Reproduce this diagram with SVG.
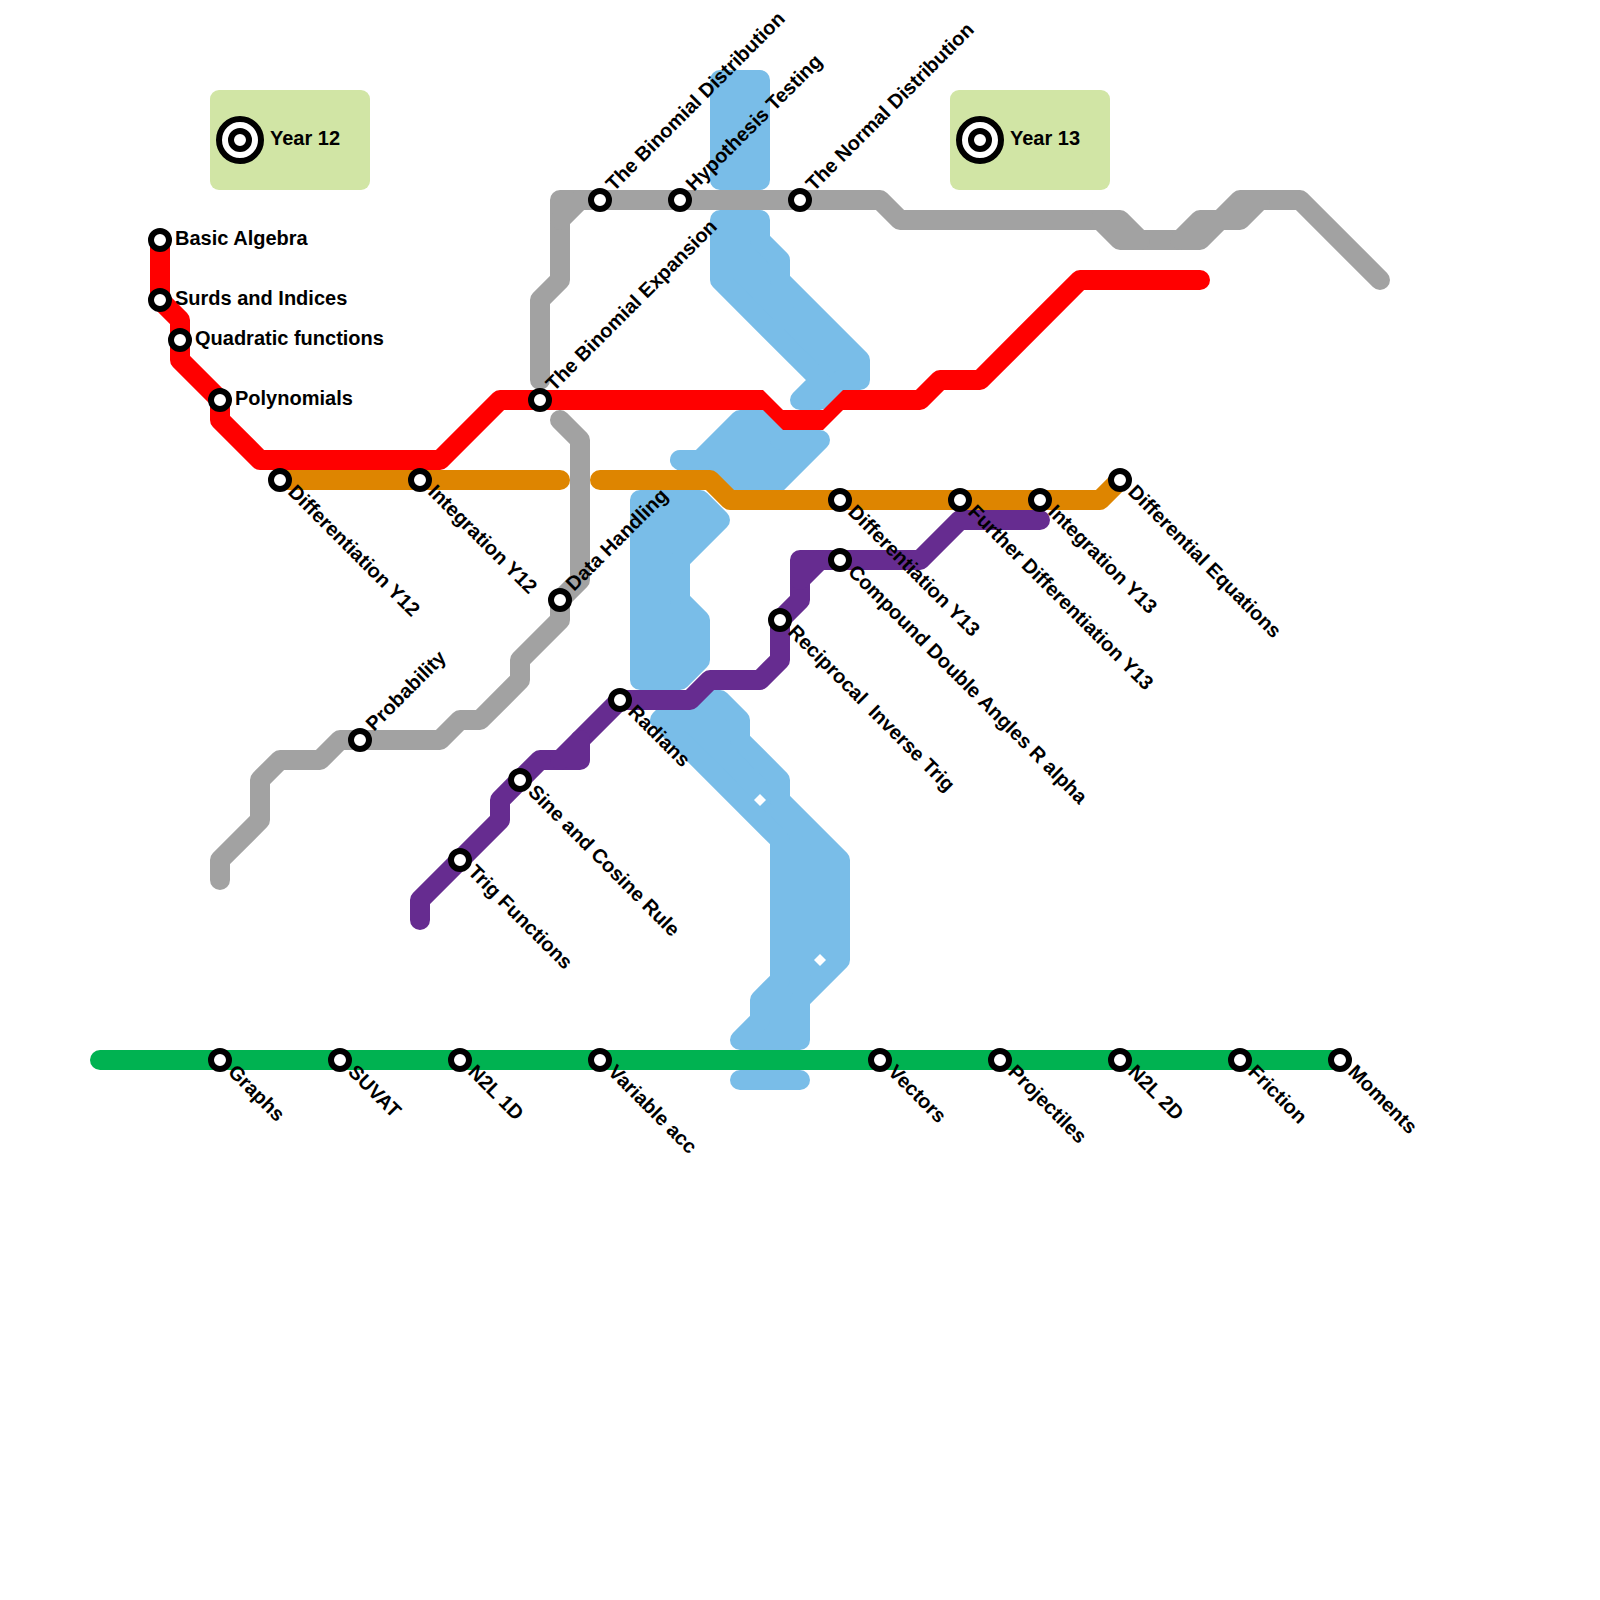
<svg xmlns="http://www.w3.org/2000/svg" width="1600" height="1600" viewBox="0 0 1600 1600">
<style>
.l{fill:none;stroke-width:20;stroke-linecap:round;stroke-linejoin:round}
.blue{fill:#79BDE8;stroke:#79BDE8;stroke-width:20;stroke-linejoin:round;stroke-linecap:round}
.gray{stroke:#A2A2A2}.red{stroke:#FF0000}.orange{stroke:#DE8500}.purple{stroke:#662C90}.green{stroke:#00B251}
.s{fill:#fff;stroke:#000;stroke-width:6}
.t{font-family:"Liberation Sans",Arial,sans-serif;font-weight:700;font-size:20px;fill:#000;white-space:pre}
.k{fill:#D1E5A5}
.o{fill:#fff;stroke:#000;stroke-width:6}
.i{fill:#fff;stroke:#000;stroke-width:6}
</style>
<g id="legend-year-12"><rect class="k" x="210" y="90" width="160" height="100" rx="9"/><circle class="o" cx="240" cy="140" r="21"/><circle class="i" cx="240" cy="140" r="9"/><text class="t" x="270" y="145">Year 12</text></g>
<g id="legend-year-13"><rect class="k" x="950" y="90" width="160" height="100" rx="9"/><circle class="o" cx="980" cy="140" r="21"/><circle class="i" cx="980" cy="140" r="9"/><text class="t" x="1010" y="145">Year 13</text></g>
<g id="connectors">
<g id="line-blue">
<path class="blue" d="M720 80H760V180H720Z"/>
<path class="blue" d="M720 220H760V240L780 260V280L860 360V380H840L820 400H800L820 380L720 280Z"/>
<path class="blue" d="M740 420H780V440H820L770 490H730L680 460V460H700Z"/>
<path class="blue" d="M640 500H700L720 520L680 560V600L700 620V660L680 680H640Z"/>
<path class="blue" d="M680 700H720L740 720V740L780 780V800L840 860V960L800 1000V1040H740L760 1020V1000L780 980V840L660 720Z"/>
<path class="blue" d="M740 1080H800"/>
<path fill="#fff" d="M760 794L766 800L760 806L754 800Z"/>
<path fill="#fff" d="M820 954L826 960L820 966L814 960Z"/>
</g>
<g id="line-gray">
<path class="l gray" d="M540 380V300L560 280V200H880L900 220H1120L1140 240H1200L1220 220H1240L1260 200H1300L1380 280"/>
<path class="l gray" d="M560 220L580 200"/>
<path class="l gray" d="M1100 220L1120 240H1140"/>
<path class="l gray" d="M1180 240L1200 220H1220L1240 200H1260"/>
<path class="l gray" d="M560 420L580 440V580L560 600V620L520 660V680L480 720H460L440 740H340L320 760H280L260 780V820L220 860V880"/>
</g>
<g id="line-red">
<path class="l red" d="M160 240V300L180 320V360L220 400V420L260 460H440L500 400H750"/>
<path fill="#FF0000" d="M750 390H763L783 410H823L843 390H860V410H843L823 430H783L763 410H750Z"/>
<path class="l red" d="M860 400H920L940 380H980L1080 280H1200"/>
</g>
<g id="line-orange">
<path class="l orange" d="M280 480H560"/>
<path class="l orange" d="M600 480H710L730 500H1100L1120 480"/>
</g>
<g id="line-purple">
<path class="l purple" d="M420 920V900L500 820V800L540 760H580V740L620 700H690L710 680H760L780 660V620L800 600V560H920L960 520H1040"/>
<path class="l purple" d="M560 760L580 740"/>
<path class="l purple" d="M800 580L820 560"/>
</g>
<path id="line-green" class="l green" d="M100 1060H1340"/>
</g>
<g id="st-basic-algebra"><circle class="s" cx="160" cy="240" r="9"/><text class="t" x="175" y="245">Basic Algebra</text></g>
<g id="st-surds"><circle class="s" cx="160" cy="300" r="9"/><text class="t" x="175" y="305">Surds and Indices</text></g>
<g id="st-quadratic"><circle class="s" cx="180" cy="340" r="9"/><text class="t" x="195" y="345">Quadratic functions</text></g>
<g id="st-polynomials"><circle class="s" cx="220" cy="400" r="9"/><text class="t" x="235" y="405">Polynomials</text></g>
<g id="st-diff-y12"><circle class="s" cx="280" cy="480" r="9"/><text class="t" x="287" y="493" transform="rotate(45 287 493)">Differentiation Y12</text></g>
<g id="st-int-y12"><circle class="s" cx="420" cy="480" r="9"/><text class="t" x="427" y="493" transform="rotate(45 427 493)">Integration Y12</text></g>
<g id="st-binomial-exp"><circle class="s" cx="540" cy="400" r="9"/><text class="t" x="554" y="392" transform="rotate(-45 554 392)">The Binomial Expansion</text></g>
<g id="st-binomial-dist"><circle class="s" cx="600" cy="200" r="9"/><text class="t" x="614" y="192" transform="rotate(-45 614 192)">The Binomial Distribution</text></g>
<g id="st-hypothesis"><circle class="s" cx="680" cy="200" r="9"/><text class="t" x="694" y="192" transform="rotate(-45 694 192)">Hypothesis Testing</text></g>
<g id="st-normal"><circle class="s" cx="800" cy="200" r="9"/><text class="t" x="814" y="192" transform="rotate(-45 814 192)">The Normal Distribution</text></g>
<g id="st-data"><circle class="s" cx="560" cy="600" r="9"/><text class="t" x="574" y="592" transform="rotate(-45 574 592)">Data Handling</text></g>
<g id="st-probability"><circle class="s" cx="360" cy="740" r="9"/><text class="t" x="374" y="732" transform="rotate(-45 374 732)">Probability</text></g>
<g id="st-radians"><circle class="s" cx="620" cy="700" r="9"/><text class="t" x="627" y="713" transform="rotate(45 627 713)">Radians</text></g>
<g id="st-sine"><circle class="s" cx="520" cy="780" r="9"/><text class="t" x="527" y="793" transform="rotate(45 527 793)">Sine and Cosine Rule</text></g>
<g id="st-trig"><circle class="s" cx="460" cy="860" r="9"/><text class="t" x="467" y="873" transform="rotate(45 467 873)">Trig Functions</text></g>
<g id="st-reciprocal"><circle class="s" cx="780" cy="620" r="9"/><text class="t" x="787" y="633" transform="rotate(45 787 633)">Reciprocal  Inverse Trig</text></g>
<g id="st-compound"><circle class="s" cx="840" cy="560" r="9"/><text class="t" x="847" y="573" transform="rotate(45 847 573)">Compound Double Angles R alpha</text></g>
<g id="st-diff-y13"><circle class="s" cx="840" cy="500" r="9"/><text class="t" x="847" y="513" transform="rotate(45 847 513)">Differentiation Y13</text></g>
<g id="st-further"><circle class="s" cx="960" cy="500" r="9"/><text class="t" x="967" y="513" transform="rotate(45 967 513)">Further Differentiation Y13</text></g>
<g id="st-int-y13"><circle class="s" cx="1040" cy="500" r="9"/><text class="t" x="1047" y="513" transform="rotate(45 1047 513)">Integration Y13</text></g>
<g id="st-diff-eq"><circle class="s" cx="1120" cy="480" r="9"/><text class="t" x="1127" y="493" transform="rotate(45 1127 493)">Differential Equations</text></g>
<g id="st-graphs"><circle class="s" cx="220" cy="1060" r="9"/><text class="t" x="227" y="1073" transform="rotate(45 227 1073)">Graphs</text></g>
<g id="st-suvat"><circle class="s" cx="340" cy="1060" r="9"/><text class="t" x="347" y="1073" transform="rotate(45 347 1073)">SUVAT</text></g>
<g id="st-n2l-1d"><circle class="s" cx="460" cy="1060" r="9"/><text class="t" x="467" y="1073" transform="rotate(45 467 1073)">N2L 1D</text></g>
<g id="st-variable"><circle class="s" cx="600" cy="1060" r="9"/><text class="t" x="607" y="1073" transform="rotate(45 607 1073)">Variable acc</text></g>
<g id="st-vectors"><circle class="s" cx="880" cy="1060" r="9"/><text class="t" x="887" y="1073" transform="rotate(45 887 1073)">Vectors</text></g>
<g id="st-projectiles"><circle class="s" cx="1000" cy="1060" r="9"/><text class="t" x="1007" y="1073" transform="rotate(45 1007 1073)">Projectiles</text></g>
<g id="st-n2l-2d"><circle class="s" cx="1120" cy="1060" r="9"/><text class="t" x="1127" y="1073" transform="rotate(45 1127 1073)">N2L 2D</text></g>
<g id="st-friction"><circle class="s" cx="1240" cy="1060" r="9"/><text class="t" x="1247" y="1073" transform="rotate(45 1247 1073)">Friction</text></g>
<g id="st-moments"><circle class="s" cx="1340" cy="1060" r="9"/><text class="t" x="1347" y="1073" transform="rotate(45 1347 1073)">Moments</text></g>
</svg>
